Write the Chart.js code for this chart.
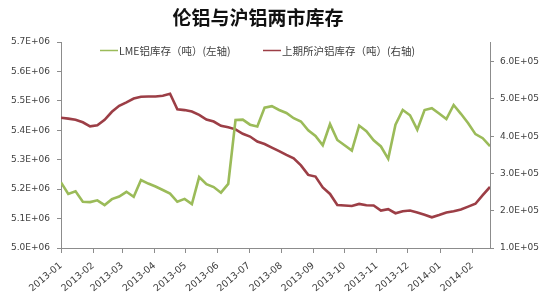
<!DOCTYPE html>
<html>
<head>
<meta charset="utf-8">
<script src="https://cdn.jsdelivr.net/npm/chart.js@4/dist/chart.umd.min.js"></script>
<style>
  html, body { margin: 0; padding: 0; background: #ffffff; }
  #wrap { width: 550px; height: 300px; }
</style>
</head>
<body>
<div id="wrap"><canvas id="c" width="550" height="300"></canvas></div>
<script>
// ---- DATA ----
const chartTitle = '伦铝与沪铝两市库存';
const seriesNames = ['LME铝库存（吨）(左轴)', '上期所沪铝库存（吨）(右轴)'];

const weekDates = [
  '2013-01-04','2013-01-11','2013-01-18','2013-01-25','2013-02-01','2013-02-08','2013-02-15','2013-02-22',
  '2013-03-01','2013-03-08','2013-03-15','2013-03-22','2013-03-29','2013-04-05','2013-04-12','2013-04-19',
  '2013-04-26','2013-05-03','2013-05-10','2013-05-17','2013-05-24','2013-05-31','2013-06-07','2013-06-14',
  '2013-06-21','2013-06-28','2013-07-05','2013-07-12','2013-07-19','2013-07-26','2013-08-02','2013-08-09',
  '2013-08-16','2013-08-23','2013-08-30','2013-09-06','2013-09-13','2013-09-20','2013-09-27','2013-10-04',
  '2013-10-11','2013-10-18','2013-10-25','2013-11-01','2013-11-08','2013-11-15','2013-11-22','2013-11-29',
  '2013-12-06','2013-12-13','2013-12-20','2013-12-27','2014-01-03','2014-01-10','2014-01-17','2014-01-24',
  '2014-01-31','2014-02-07','2014-02-14','2014-02-21'
];

const lmeStock = [
  5223000,5184000,5193000,5157000,5156000,5162000,5146000,5166000,
  5175000,5191000,5174000,5231000,5219000,5209000,5197000,5185000,
  5157000,5167000,5149000,5241000,5217000,5207000,5188000,5218000,
  5435000,5436000,5419000,5413000,5477000,5482000,5469000,5459000,
  5441000,5430000,5400000,5381000,5349000,5421000,5367000,5349000,
  5331000,5416000,5397000,5366000,5345000,5303000,5419000,5469000,
  5451000,5402000,5469000,5475000,5457000,5438000,5486000,5456000,
  5424000,5387000,5373000,5346000
];

const shfeStock = [
  449500,447300,444100,437400,426600,429300,444100,465600,
  481700,491100,501300,505900,506700,506700,508600,514000,
  472300,470200,466400,457500,444900,439500,428000,423900,
  418500,406500,399200,385800,379000,369600,360200,350000,
  340600,321800,296200,291700,262600,245200,215600,214200,
  212900,218300,214800,214200,200300,204300,193300,198700,
  200800,195400,189500,182500,188700,195400,198700,203200,
  211000,218800,241700,264000
];

const monthLabels = ['2013-01','2013-02','2013-03','2013-04','2013-05','2013-06','2013-07',
  '2013-08','2013-09','2013-10','2013-11','2013-12','2014-01','2014-02'];

const leftTicks = [5.0e6, 5.1e6, 5.2e6, 5.3e6, 5.4e6, 5.5e6, 5.6e6, 5.7e6];
const rightTicks = [1.0e5, 2.0e5, 3.0e5, 4.0e5, 5.0e5, 6.0e5];

// ---- helpers ----
const DAY = 86400000;
function toDay(s) {
  const p = s.split('-').map(Number);
  return Date.UTC(p[0], p[1] - 1, p[2] || 1);
}
const t0 = toDay(weekDates[0]);
const dayOf = s => (toDay(s) - t0) / DAY;
const firstDay = weekDates[0].split('-')[2];
const monthPos = monthLabels.map(m => dayOf(m + '-' + firstDay));

const lmePts = weekDates.map((d, i) => ({ x: dayOf(d), y: lmeStock[i] }));
const shfePts = weekDates.map((d, i) => ({ x: dayOf(d), y: shfeStock[i] }));

const GREEN = '#9BBB59';
const RED = '#9C3E46';
const AXIS = '#8C8C8C';
const TXT = '#404040';
const tickFont = { family: '"DejaVu Sans", sans-serif', size: 9 };
const xTickFont = { family: '"DejaVu Sans", sans-serif', size: 9.5 };

const titlePlugin = {
  id: 'titleText',
  afterDraw(chart) {
    const ctx = chart.ctx;
    ctx.save();
    ctx.font = 'bold 19px "Noto Sans CJK SC", sans-serif';
    ctx.fillStyle = '#111111';
    ctx.textAlign = 'center';
    ctx.textBaseline = 'middle';
    ctx.fillText(chartTitle, 258, 18);
    ctx.restore();
  }
};

const legendPlugin = {
  id: 'insideLegend',
  afterDraw(chart) {
    const ctx = chart.ctx;
    const items = [{ x: 100, ds: 0 }, { x: 263, ds: 1 }];
    ctx.save();
    ctx.font = '10.5px "Noto Sans CJK SC", sans-serif';
    ctx.textBaseline = 'middle';
    ctx.textAlign = 'left';
    items.forEach(it => {
      const ds = chart.data.datasets[it.ds];
      ctx.strokeStyle = ds.borderColor;
      ctx.lineWidth = 1.5;
      ctx.beginPath();
      ctx.moveTo(it.x, 50.5);
      ctx.lineTo(it.x + 18, 50.5);
      ctx.stroke();
      ctx.fillStyle = TXT;
      ctx.fillText(ds.label, it.x + 19, 51);
    });
    ctx.restore();
  }
};

new Chart(document.getElementById('c'), {
  type: 'line',
  data: {
    datasets: [
      { label: seriesNames[0], data: lmePts, yAxisID: 'yL', borderColor: GREEN, backgroundColor: GREEN,
        borderWidth: 2.6, pointRadius: 0, tension: 0, fill: false },
      { label: seriesNames[1], data: shfePts, yAxisID: 'yR', borderColor: RED, backgroundColor: RED,
        borderWidth: 2.6, pointRadius: 0, tension: 0, fill: false }
    ]
  },
  options: {
    responsive: false,
    animation: false,
    layout: { padding: { top: 42, left: 0, right: 0, bottom: 0 } },
    plugins: { legend: { display: false }, title: { display: false }, tooltip: { enabled: false } },
    scales: {
      x: {
        type: 'linear',
        min: 0,
        max: dayOf(weekDates[weekDates.length - 1]),
        afterBuildTicks: s => { s.ticks = monthPos.map(v => ({ value: v })); },
        afterFit: s => { s.height = 52; },
        grid: { display: true, drawOnChartArea: false, drawTicks: true, tickLength: 5, color: AXIS },
        border: { display: true, color: AXIS, width: 1 },
        ticks: {
          autoSkip: false, minRotation: 40, maxRotation: 40, padding: 7,
          color: TXT, font: xTickFont,
          callback: (v, i) => monthLabels[i]
        }
      },
      yL: {
        type: 'linear', position: 'left',
        min: leftTicks[0], max: leftTicks[leftTicks.length - 1],
        afterBuildTicks: s => { s.ticks = leftTicks.map(v => ({ value: v })); },
        afterFit: s => { s.width = 61; },
        grid: { display: true, drawOnChartArea: false, drawTicks: true, tickLength: 4, color: AXIS },
        border: { display: true, color: AXIS, width: 1 },
        ticks: {
          padding: 7, color: TXT, font: tickFont,
          callback: v => (v / 1e6).toFixed(1) + 'E+06'
        }
      },
      yR: {
        type: 'linear', position: 'right',
        min: rightTicks[0], max: 6.53e5,
        afterBuildTicks: s => { s.ticks = rightTicks.map(v => ({ value: v })); },
        afterFit: s => { s.width = 60; },
        grid: { display: true, drawOnChartArea: false, drawTicks: true, tickLength: 4, color: AXIS },
        border: { display: true, color: AXIS, width: 1 },
        ticks: {
          padding: 6, color: TXT, font: tickFont,
          callback: v => (v / 1e5).toFixed(1) + 'E+05'
        }
      }
    }
  },
  plugins: [titlePlugin, legendPlugin]
});
</script>
</body>
</html>
